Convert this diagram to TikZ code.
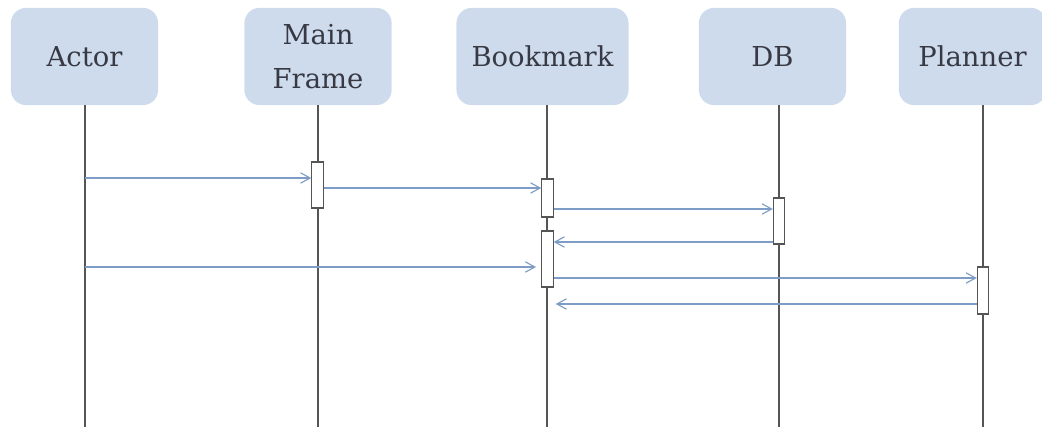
\documentclass[tikz,border=0pt]{standalone}
\usepackage{fontspec}
\setmainfont{DejaVu Serif}
\usepackage{tikz}
\usetikzlibrary{positioning}
\usetikzlibrary{arrows.meta}
\definecolor{headblue}{RGB}{206,219,236}
\definecolor{msgblue}{RGB}{125,157,198}
\definecolor{lifegray}{RGB}{85,85,85}
\definecolor{textgray}{RGB}{55,58,68}
\begin{document}
\begin{tikzpicture}[x=0.025cm,y=-0.025cm]
        \useasboundingbox (0,0) rectangle (1042,427);
        % header boxes
        \begin{scope}[every node/.style={fill=headblue,rounded corners=0.38cm,
                      minimum width=3.68cm, minimum height=2.43cm, align=center,
                      text=textgray, font=\fontsize{19.5}{31}\selectfont}]
            \node (actor) at (84.5,56.5) {Actor};
            \node (mframe) at (318,56.5) {Main\\Frame};
            \node[minimum width=4.3cm] (bmark) at (542.5,56.5) {Bookmark};
            \node (db) at (772.5,56.5) {DB};
            \node (plan) at (972.5,56.5) {Planner};
        \end{scope}
        % lifelines
        \foreach \n/\x in {actor/85, mframe/318, bmark/547, db/779, plan/983} {
            \coordinate (\n-top) at (\x,105);
            \coordinate (\n-end) at (\x,427);
            \draw[lifegray, line width=0.85pt] (\n-top) -- (\n-end);
        }
        % activations
        \begin{scope}[every node/.style={fill=white,draw=lifegray,line width=0.85pt,
                      minimum width=0.28cm, inner sep=0pt}]
            \node[minimum height=1.15cm] (mfact) at (317.5,185) {};
            \node[minimum height=0.95cm] (bmact1) at (547.5,198) {};
            \node[minimum height=1.4cm] (bmact2) at (547.5,259) {};
            \node[minimum height=1.15cm] (dbact) at (779,221) {};
            \node[minimum height=1.175cm] (plact) at (983,290.5) {};
        \end{scope}
        % messages
        \coordinate (m1) at (0,178);
        \coordinate (m2) at (0,188);
        \coordinate (m3) at (0,209);
        \coordinate (m4) at (0,242);
        \coordinate (m5) at (0,267);
        \coordinate (m6) at (0,278);
        \coordinate (m7) at (0,304);
        \begin{scope}[>={Straight Barb[length=0.24cm,width=0.26cm]},
                      every edge/.style={draw=msgblue, line width=0.8pt}]
             \path [->] (actor-top |- m1) edge (mfact.west |- m1);
             \path [->] (mfact.east |- m2) edge (bmact1.west |- m2);
             \path [->] (bmact1.east |- m3) edge (dbact.west |- m3);
             \path [->] (dbact.west |- m4) edge (bmact2.east |- m4);
             \path [->] (actor-top |- m5) edge ([xshift=-0.13cm]bmact2.west |- m5);
             \path [->] (bmact2.east |- m6) edge (plact.west |- m6);
             \path [->] (plact.west |- m7) edge ([xshift=0.05cm]bmact2.east |- m7);
        \end{scope}
        \end{tikzpicture}
\end{document}
